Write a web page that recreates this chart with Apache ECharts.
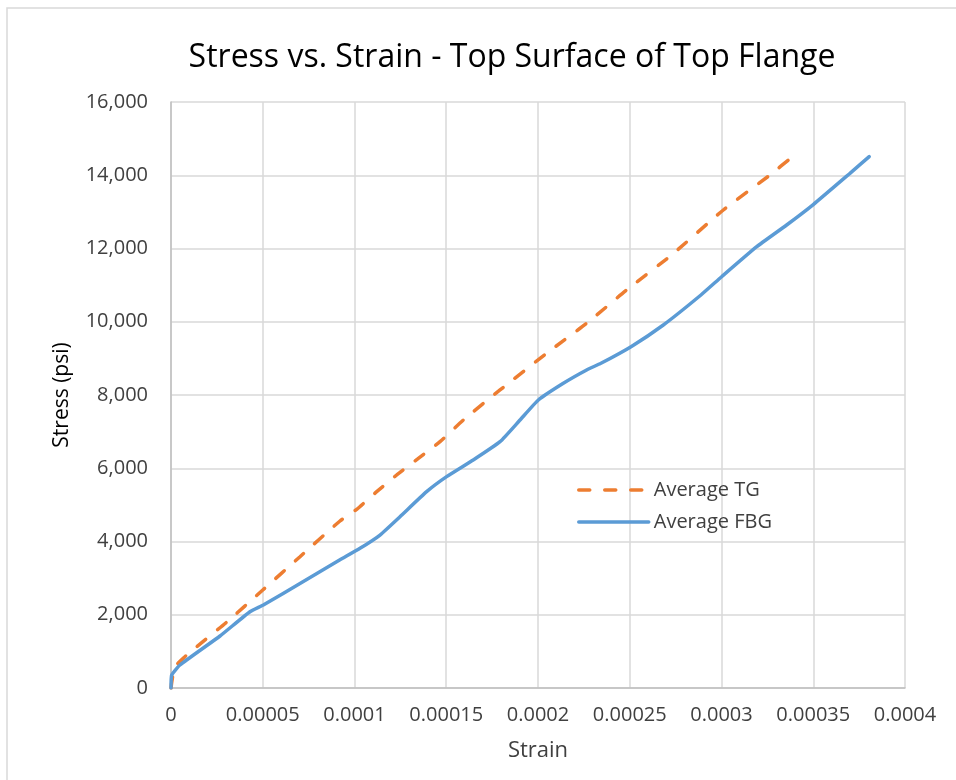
<!DOCTYPE html>
<html>
<head>
<meta charset="utf-8">
<script src="https://cdn.jsdelivr.net/npm/echarts@6/dist/echarts.min.js"></script>
<style>
  html, body { margin: 0; padding: 0; background: #ffffff; }
  #chart { width: 956px; height: 780px; }
</style>
</head>
<body>
<div id="chart"></div>
<script>
// Strain (in/in) vs. stress (psi) readings, top surface of the top flange
const averageTG = [
  [0, 0], [0.000002, 560], [0.0000076, 855], [0.000014, 1128], [0.0000304, 1800],
  [0.00005, 2676], [0.0000703, 3585], [0.0000921, 4560], [0.0001012, 4880],
  [0.0001121, 5360], [0.000123, 5816], [0.0001348, 6271], [0.0001466, 6725],
  [0.0001593, 7317], [0.0001793, 8137], [0.0002047, 9139], [0.0002265, 9958],
  [0.0002483, 10867], [0.0002728, 11823], [0.000301, 13051], [0.0003264, 14007],
  [0.0003391, 14526]
];

const averageFBG = [
  [0, 0], [0.0000004, 355], [0.0000049, 628], [0.0000267, 1420], [0.000043, 2083],
  [0.0000503, 2266], [0.0000719, 2902], [0.0000921, 3500], [0.000103, 3814],
  [0.0001139, 4177], [0.0001248, 4677], [0.0001393, 5360], [0.0001502, 5770],
  [0.0001647, 6225], [0.0001793, 6725], [0.0001902, 7317], [0.0002002, 7863],
  [0.0002138, 8320], [0.0002265, 8683], [0.0002343, 8866], [0.0002507, 9319],
  [0.0002683, 9912], [0.0002888, 10731], [0.0003001, 11230], [0.0003192, 12049],
  [0.0003355, 12642], [0.00035, 13200], [0.00037, 14053], [0.0003805, 14507]
];

const strainTickLabels = ['0', '0.00005', '0.0001', '0.00015', '0.0002',
  '0.00025', '0.0003', '0.00035', '0.0004'];
const strainStep = 0.00005;

const FONT = 'Open Sans';
const TEXT = '#404040';

const chart = echarts.init(document.getElementById('chart'));
chart.setOption({
  backgroundColor: '#ffffff',
  animation: false,
  textStyle: { fontFamily: FONT },
  graphic: [{
    type: 'rect',
    shape: { x: 7, y: 8, width: 1000, height: 1000 },
    style: { fill: 'none', stroke: '#d9d9d9', lineWidth: 1.5 },
    silent: true
  }],
  title: {
    text: 'Stress vs. Strain - Top Surface of Top Flange',
    left: 507,
    top: 37,
    textAlign: 'center',
    textStyle: { fontFamily: FONT, fontSize: 32, fontWeight: 'normal', color: '#000000' }
  },
  grid: { left: 171, right: 51, top: 102, bottom: 92, containLabel: false },
  legend: {
    orient: 'vertical',
    left: 577,
    top: 480,
    padding: 0,
    itemWidth: 70,
    itemHeight: 14,
    itemGap: 12,
    itemStyle: { opacity: 0 },
    lineStyle: { width: 3.5 },
    textStyle: { fontFamily: FONT, fontSize: 20, color: TEXT, padding: [0, 0, 0, 0] },
    data: ['Average TG', 'Average FBG']
  },
  xAxis: {
    type: 'value',
    min: 0,
    max: 0.0004,
    interval: strainStep,
    name: 'Strain',
    nameLocation: 'middle',
    nameGap: 52,
    nameTextStyle: { fontFamily: FONT, fontSize: 22, color: TEXT },
    axisLine: { show: true, lineStyle: { color: '#bfbfbf', width: 1.5 } },
    axisTick: { show: false },
    axisLabel: {
      margin: 17,
      fontFamily: FONT, fontSize: 20, color: TEXT,
      formatter: v => strainTickLabels[Math.round(v / strainStep)]
    },
    splitLine: { show: true, lineStyle: { color: '#d9d9d9', width: 1.5 } }
  },
  yAxis: {
    type: 'value',
    min: 0,
    max: 16000,
    interval: 2000,
    name: 'Stress (psi)',
    nameLocation: 'middle',
    nameGap: 98,
    nameTextStyle: { fontFamily: FONT, fontSize: 21, color: '#000000' },
    axisLine: { show: true, lineStyle: { color: '#bfbfbf', width: 1.5 } },
    axisTick: { show: false },
    axisLabel: {
      margin: 23,
      fontFamily: FONT, fontSize: 20, color: TEXT,
      formatter: v => v.toLocaleString('en-US')
    },
    splitLine: { show: true, lineStyle: { color: '#d9d9d9', width: 1.5 } }
  },
  series: [
    {
      name: 'Average TG',
      type: 'line',
      data: averageTG,
      symbol: 'none',
      smooth: 0.2,
      color: '#ed7d31',
      lineStyle: { color: '#ed7d31', width: 3.5, type: [11, 15], cap: 'round' },
      z: 3
    },
    {
      name: 'Average FBG',
      type: 'line',
      data: averageFBG,
      symbol: 'none',
      smooth: 0.15,
      color: '#5b9bd5',
      lineStyle: { color: '#5b9bd5', width: 3.5, cap: 'round' },
      z: 4
    }
  ]
});
</script>
</body>
</html>
